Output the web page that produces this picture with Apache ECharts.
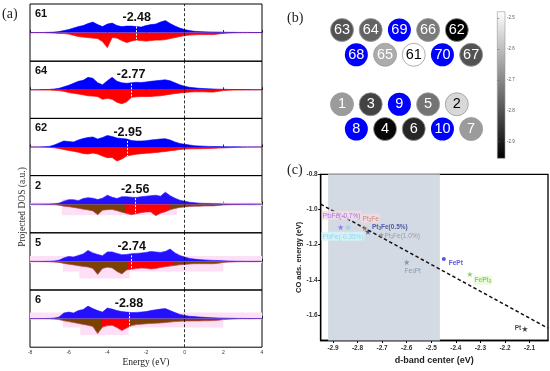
<!DOCTYPE html>
<html><head><meta charset="utf-8">
<script src="https://cdn.jsdelivr.net/npm/echarts@6/dist/echarts.min.js"></script>
<style>html,body{margin:0;padding:0;background:#fff}#c{width:550px;height:371px}</style>
</head><body><div id="c"></div>
<script>
// ---------- DATA ----------
// (a) projected DOS, energy grid (eV)
const energy = [-8,-7.75,-7.5,-7.25,-7,-6.75,-6.5,-6.25,-6,-5.75,-5.5,-5.25,-5,-4.75,-4.5,-4.25,-4,-3.75,-3.5,-3.25,-3,-2.75,-2.5,-2.25,-2,-1.75,-1.5,-1.25,-1,-0.75,-0.5,-0.25,0,0.25,0.5,0.75,1,1.25,1.5,1.75,2,2.25,2.5,2.75,3,3.25,3.5,3.75,4];
const panelNames = ['61','64','62','2','5','6'];
const dbandCenters = [-2.48,-2.77,-2.95,-2.56,-2.74,-2.88];
const p61Up = [0,0,0,0.2,0.3,0.5,1,2,3,4.5,6,7,9,10.5,8,6,8.5,9.5,7,6,6.5,6.5,6,5.5,7,8,8.5,10.5,12,9,6.5,4.5,3,2,1.3,1,0.8,0.7,0.6,0.5,0.4,0.3,0.3,0.2,0.2,0.2,0.1,0.1,0.1];
const p61Dn = [0,0,0,0.2,0.3,0.5,0.8,1,1.5,2.7,4,4.5,5,5.5,6,9,15,5,5.5,8,10,8.5,7.5,8,8.5,8,7.5,7.5,7,6,5,4,3,2.5,2.2,2,2,2,2,1.3,0.8,0.5,0.3,0.2,0.2,0.1,0.1,0.1,0];
const p64Up = [0,0,0.1,0.2,0.4,0.8,1.5,3,4.5,6.5,8.5,9.5,12.5,11.5,7,5,9,12.5,8.5,7,6.5,7,7.5,7.3,7.8,8.5,9,9.5,10,9,7,5,3.5,2.5,2,1.5,1.2,1,0.8,0.6,0.5,0.4,0.3,0.3,0.2,0.2,0.1,0.1,0.1];
const p64Dn = [0,0,0.1,0.2,0.3,0.5,0.8,1.5,2.8,3.5,4.2,5,6,6.3,6.8,9.5,8.5,9.5,12.5,14,12,7.5,7,6.7,6.7,6.7,6.3,6,5.2,4.5,3.8,3.2,2.7,2.3,2,2,2,2.2,2.3,1.5,0.8,0.5,0.3,0.2,0.2,0.1,0.1,0.1,0];
const p62Up = [0,0,0.1,0.3,0.6,2,4,6,5.5,5,7,8.5,9.5,10,8,9.5,11.5,10.5,9,8.5,8,6.5,6,6,6.3,7,7.5,8,8.3,7,5,3.5,2.7,2,1.3,1,0.8,0.6,0.5,0.4,0.3,0.3,0.2,0.2,0.1,0.1,0.1,0.1,0];
const p62Dn = [0,0,0.1,0.2,0.4,0.8,1.5,2.5,3.5,4.3,5.2,6.5,7,6,7,9,10.7,10.5,14,12,9,8,7.2,6.7,6.3,6,5.5,5,4.5,3.8,3.2,2.5,2,1.8,1.7,1.7,1.6,1.4,1.3,1.1,0.9,0.7,0.5,0.3,0.2,0.1,0.1,0.1,0];
const p2Up = [0,0,0,0.1,0.2,0.4,1,3,4.5,4.5,3.5,5.7,6.5,6,4.7,6,9,7,5.7,7.5,7.5,7,6.7,7.5,8,8.5,9,8,12,8.5,6,4,3,2,1.5,1,0.8,0.6,0.5,0.4,0.3,0.2,0.2,0.1,0.1,0.1,0.1,0,0];
const p2Dn = [0,0,0,0.1,0.2,0.4,1,2,2.5,3.2,4,5,5.7,6.7,10.5,6,5.5,5.3,6.5,8,9.3,10.5,9.5,8.5,7.8,7.7,11.5,9,7.5,5.5,4.2,3.3,2.7,2.3,2,2,1.8,1.7,1.7,1.2,0.7,0.5,0.3,0.2,0.1,0.1,0.1,0,0];
const p5Up = [0,0,0,0.1,0.2,0.4,1.2,3.5,5,4.3,6,7.5,11,8.5,7,5.7,9.5,9.5,8,6.7,7,7.7,8,8.3,9,10,9.5,9,10,12.3,8.5,6,4.3,3,2.3,1.8,1.5,1.2,1,0.8,0.6,0.4,0.3,0.2,0.2,0.1,0.1,0.1,0];
const p5Dn = [0,0,0,0.1,0.2,0.5,1,2,2.8,3.5,4.3,5,5.7,7,13,7,5.8,6.5,10,12.5,8.5,7.8,7.2,6.7,6.8,7.5,7.2,6,5.3,4.7,4,3.3,3,2.6,2.3,2.3,2.3,2.3,2.3,1.8,1,0.6,0.4,0.2,0.1,0.1,0.1,0,0];
const p6Up = [0,0,0,0.1,0.2,0.5,1.5,5.5,6.5,5.5,8,9,12.5,10,8,6.5,10.5,9.5,8,7,6.5,6,6.2,6.5,7,8,8.8,9.5,10,8,6,4.2,3.2,2.3,2,1.6,1.3,1,0.8,0.6,0.5,0.4,0.3,0.2,0.2,0.1,0.1,0.1,0];
const p6Dn = [0,0,0,0.1,0.2,0.5,1,2.2,3,4,4.8,5.8,6.7,8,15,8.5,7,6.7,9,12,9.5,7,6,5.6,5.2,4.8,4.6,4.3,4,3.5,3,2.7,2.5,2.4,2.3,2.3,2.2,2.1,2,1.6,1,0.6,0.4,0.2,0.1,0.1,0.1,0,0];
const upSets = [p61Up,p64Up,p62Up,p2Up,p5Up,p6Up];
const dnSets = [p61Dn,p64Dn,p62Dn,p2Dn,p5Dn,p6Dn];

// (b) sites
const siteLabels = ['63','64','69','66','62','68','65','61','70','67','1','3','9','5','2','8','4','6','10','7'];
const siteCol = [0,2,4,6,8,1,3,5,7,9,0,2,4,6,8,1,3,5,7,9];
const siteRow = [0,0,0,0,0,1,1,1,1,1,3,3,3,3,3,4,4,4,4,4];
const siteDband = [-2.80,-2.77,null,-2.73,-2.95,null,-2.64,-2.48,null,-2.80,-2.67,-2.83,null,-2.74,-2.56,null,-2.94,-2.88,null,-2.67];
const colorbarTicks = [-2.9,-2.8,-2.7,-2.6,-2.5];

// (c) CO adsorption vs d-band center
const cLabels = ['Pt{s|3}Fe(-0.7%)','Pt{s|3}Fe(-0.35%)','Pt{s|3}Fe','Pt{s|3}Fe(0.5%)','Pt{s|3}Fe(1.0%)','Fe{s|3}Pt','FePt','FePt{s|3}','Pt'];
const cDband = [-2.869,-2.839,-2.771,-2.758,-2.704,-2.600,-2.449,-2.343,-2.119];
const cEads  = [-1.101,-1.101,-1.107,-1.126,-1.145,-1.300,-1.281,-1.368,-1.679];
const fitX = [-2.95,-2.025];
const fitY = [-0.97,-1.675];
const shadeRange = [-2.92,-2.465];
const cXTicks = [-2.9,-2.8,-2.7,-2.6,-2.5,-2.4,-2.3,-2.2,-2.1];
const cYTicks = [-1.6,-1.4,-1.2,-1.0,-0.8];

// ---------- STYLE ----------
const SANS = 'Liberation Sans', SERIF = 'Liberation Serif';
const aLeft = 30, aTop = 4, aW = 232, aH = 57.2, aHalf = 28.6;
const brown = '#7a4100', red = '#ff0000';
const redBands = [null,null,null,[-3.1,-0.8],[-3.0,-0.6],[-4.3,-2.85]];
const pinkBoxes = [null,null,null,
  [[-8,1.8,4,-1.8],[-6.35,5,-0.4,-11]],
  [[-8,5.5,4,-1.5],[-6.3,0,2.0,-10],[-5.45,0,-2.85,-17]],
  [[-8,6,4,-1],[-6.3,0,2.0,-9],[-5.4,0,-2.9,-16.5]]];
const cColors = ['#8d5cf0','#7fd3ea','#b0784c','#2a3a90','#8e8e8e','#6d8aa5','#2b2bdc','#7cc242','#111111'];
const cOffsets = [[1,-12],[-5,9],[6,-10],[22,-5],[21,0.5],[6,8],[12,4],[13,6],[-7,-1]];
const cBg = ['#f6d9e6','#d4f5fb','#f6d9e6',null,null,null,null,'#e8f8da',null];
const cBold = [false,false,false,true,false,false,true,true,true];

const chart = echarts.init(document.getElementById('c'));
const grids = [], xAxes = [], yAxes = [], series = [];

for (let i = 0; i < 6; i++) {
  grids.push({left: aLeft, top: aTop + i*aH, width: aW, height: aH, show: true, borderColor: '#000', borderWidth: 1});
  xAxes.push({gridIndex: i, type: 'value', min: -8, max: 4, interval: 2,
    axisLine: {show: false}, splitLine: {show: false},
    axisTick: {show: true, inside: true, length: 2.5, lineStyle: {color: '#000', width: 0.8}},
    axisLabel: {show: i === 5, fontSize: 5, color: '#333', margin: 3, fontFamily: SANS},
    name: i === 5 ? 'Energy (eV)' : '', nameLocation: 'middle', nameGap: 10,
    nameTextStyle: {fontFamily: SERIF, fontSize: 9.5, color: '#222'}});
  yAxes.push({gridIndex: i, type: 'value', min: -aHalf, max: aHalf, show: false});

  const up = energy.map((e,k) => [e, upSets[i][k]]);
  const dn = energy.map((e,k) => [e, -dnSets[i][k]]);
  if (pinkBoxes[i]) {
    series.push({type: 'line', xAxisIndex: i, yAxisIndex: i, data: dn, symbol: 'none', silent: true,
      lineStyle: {opacity: 0}, z: 1,
      markArea: {silent: true, itemStyle: {color: '#fde0f5'},
        data: pinkBoxes[i].map(b => [{coord: [b[0], b[1]]}, {coord: [b[2], b[3]]}])}});
  }
  let dnColor = red;
  if (redBands[i]) {
    const a = (redBands[i][0] + 8) / 12, b = (redBands[i][1] + 8) / 12;
    dnColor = new echarts.graphic.LinearGradient(0,0,1,0,[
      {offset:0,color:brown},{offset:a,color:brown},{offset:a,color:red},
      {offset:b,color:red},{offset:b,color:brown},{offset:1,color:brown}]);
  }
  series.push({type: 'line', xAxisIndex: i, yAxisIndex: i, data: dn, symbol: 'none', silent: true, z: 2,
    lineStyle: {width: 0.7, color: i < 3 ? red : '#c0405a'}, areaStyle: {color: dnColor, opacity: 1}});
  const blue = i < 3 ? '#0000ff' : '#2410ff';
  series.push({type: 'line', xAxisIndex: i, yAxisIndex: i, data: up, symbol: 'none', silent: true, z: 3,
    lineStyle: {width: 0.6, color: blue}, areaStyle: {color: blue, opacity: 1},
    markLine: {silent: true, symbol: ['none','none'], label: {show: false},
      data: [
        {xAxis: 0, lineStyle: {color: '#000', type: [3,2], width: 0.8}},
        [{coord: [dbandCenters[i], 6], lineStyle: {color: '#fff', type: [2,1.5], width: 1}}, {coord: [dbandCenters[i], -9]}]
      ]},
    markPoint: {silent: true, symbol: 'circle', symbolSize: 1, itemStyle: {color: 'rgba(0,0,0,0)'},
      data: [{coord: [dbandCenters[i], aHalf - 13.8], value: dbandCenters[i]}],
      label: {show: true, position: 'inside', formatter: p => p.value.toFixed(2),
        fontFamily: SANS, fontWeight: 'bold', fontSize: 12.5, color: '#111'}}});
}

// (b) grid
grids.push({left: 342, top: 30, width: 129.15, height: 99, show: false});
xAxes.push({gridIndex: 6, type: 'value', min: 0, max: 9, show: false});
yAxes.push({gridIndex: 6, type: 'value', min: 0, max: 4, inverse: true, show: false});
const grayData = [], blueData = [];
siteLabels.forEach((lab, k) => {
  if (siteDband[k] === null) {
    blueData.push({name: lab, value: [siteCol[k], siteRow[k]]});
  } else {
    grayData.push({name: lab, value: [siteCol[k], siteRow[k], siteDband[k]],
      label: {color: siteDband[k] > -2.6 ? '#000' : '#fff'}});
  }
});
const circleLabel = {show: true, position: 'inside', formatter: p => p.name, fontFamily: SANS, fontSize: 14.5, color: '#fff'};
const grayIndex = series.length;
series.push({type: 'scatter', xAxisIndex: 6, yAxisIndex: 6, data: grayData, symbolSize: 23, silent: true,
  itemStyle: {borderColor: '#9a9a9a', borderWidth: 0.8, opacity: 1}, label: circleLabel});
series.push({type: 'scatter', xAxisIndex: 6, yAxisIndex: 6, data: blueData, symbolSize: 23, silent: true,
  itemStyle: {color: '#0000ff', opacity: 1}, label: circleLabel});

// colorbar grid
grids.push({left: 497.3, top: 11.7, width: 7.7, height: 146.6, show: false});
xAxes.push({gridIndex: 7, type: 'value', min: 0, max: 1, show: false});
yAxes.push({gridIndex: 7, type: 'value', min: -2.955, max: -2.479, position: 'right',
  axisLine: {show: false}, splitLine: {show: false},
  axisTick: {show: true, length: 2, customValues: colorbarTicks, lineStyle: {color: '#666', width: 0.6}},
  axisLabel: {customValues: colorbarTicks, fontSize: 4.5, color: '#555', margin: 2, fontFamily: SANS,
    formatter: v => v.toFixed(1)}});

// (c) grid
grids.push({left: 320.7, top: 174.3, right: 2, bottom: 30.5, show: true, borderColor: '#000', borderWidth: 1.3});
xAxes.push({gridIndex: 8, type: 'value', min: -2.95, max: -2.025,
  axisLine: {show: true, lineStyle: {color: '#000', width: 1.3}}, splitLine: {show: false},
  axisTick: {show: true, length: 2.5, customValues: cXTicks, lineStyle: {color: '#000', width: 1}},
  axisLabel: {customValues: cXTicks, fontSize: 6.5, fontWeight: 'bold', color: '#333', margin: 4, fontFamily: SANS,
    formatter: v => v.toFixed(1)},
  name: 'd-band center (eV)', nameLocation: 'middle', nameGap: 16,
  nameTextStyle: {fontFamily: SANS, fontWeight: 'bold', fontSize: 9, color: '#222'}});
yAxes.push({gridIndex: 8, type: 'value', min: -1.745, max: -0.8,
  axisLine: {show: true, lineStyle: {color: '#000', width: 1.3}}, splitLine: {show: false},
  axisTick: {show: true, length: 2.5, customValues: cYTicks, lineStyle: {color: '#000', width: 1}},
  axisLabel: {customValues: cYTicks, fontSize: 6.5, fontWeight: 'bold', color: '#333', margin: 3, fontFamily: SANS,
    formatter: v => v.toFixed(1)},
  name: 'CO ads. energy (eV)', nameLocation: 'middle', nameGap: 17,
  nameTextStyle: {fontFamily: SANS, fontWeight: 'bold', fontSize: 7.5, color: '#222'}});

series.push({type: 'line', xAxisIndex: 8, yAxisIndex: 8, data: fitX.map((x,k) => [x, fitY[k]]),
  symbol: 'none', silent: true, z: 3, lineStyle: {color: '#111', width: 1.5, type: [3.5,2.5]},
  markArea: {silent: true, itemStyle: {color: '#d4dae3'},
    data: [[{xAxis: shadeRange[0]}, {xAxis: shadeRange[1]}]]}});
const starPath = 'path://M50,0 L61,35 L98,35 L68,57 L79,91 L50,70 L21,91 L32,57 L2,35 L39,35 Z';
series.push({type: 'scatter', xAxisIndex: 8, yAxisIndex: 8, silent: true, z: 4,
  data: cDband.map((x,k) => ({
    value: [x, cEads[k]],
    symbol: k === 6 ? 'circle' : starPath,
    symbolSize: k === 6 ? 4 : 6,
    itemStyle: {color: cColors[k]},
    label: {show: true, position: 'inside', offset: cOffsets[k], formatter: cLabels[k],
      color: cColors[k], fontSize: 6.5, fontFamily: SANS, fontWeight: cBold[k] ? 'bold' : 'normal',
      backgroundColor: cBg[k] || 'transparent', padding: [1,1,0,1],
      rich: {s: {fontSize: 4.5, padding: [3,0,0,0]}}}
  }))});

const graphics = [
  {type: 'text', left: 2, top: 7, style: {text: '(a)', font: '14px "Liberation Serif"', fill: '#222'}},
  {type: 'text', left: 287, top: 11, style: {text: '(b)', font: '14px "Liberation Serif"', fill: '#222'}},
  {type: 'text', left: 287, top: 163, style: {text: '(c)', font: '14px "Liberation Serif"', fill: '#222'}},
  {type: 'text', x: 22, y: 207, rotation: Math.PI/2,
    style: {text: 'Projected DOS (a.u.)', font: '9.5px "Liberation Serif"', fill: '#333', align: 'center', verticalAlign: 'middle'}},
  {type: 'rect', shape: {x: 497.3, y: 11.7, width: 7.7, height: 146.6},
    style: {fill: new echarts.graphic.LinearGradient(0,0,0,1,[{offset:0,color:'#ffffff'},{offset:1,color:'#000000'}]),
      stroke: '#999', lineWidth: 0.6}}
];
panelNames.forEach((n, i) => graphics.push({type: 'text', x: 35, y: aTop + i*aH + 10,
  style: {text: n, font: 'bold 11px "Liberation Sans"', fill: '#111', verticalAlign: 'middle'}}));

chart.setOption({
  animation: false,
  backgroundColor: '#fff',
  grid: grids, xAxis: xAxes, yAxis: yAxes, series: series,
  visualMap: [{type: 'continuous', show: false, seriesIndex: grayIndex, dimension: 2,
    min: -2.95, max: -2.49, inRange: {color: ['#000000', '#ffffff']}}],
  graphic: graphics
});
</script></body></html>
